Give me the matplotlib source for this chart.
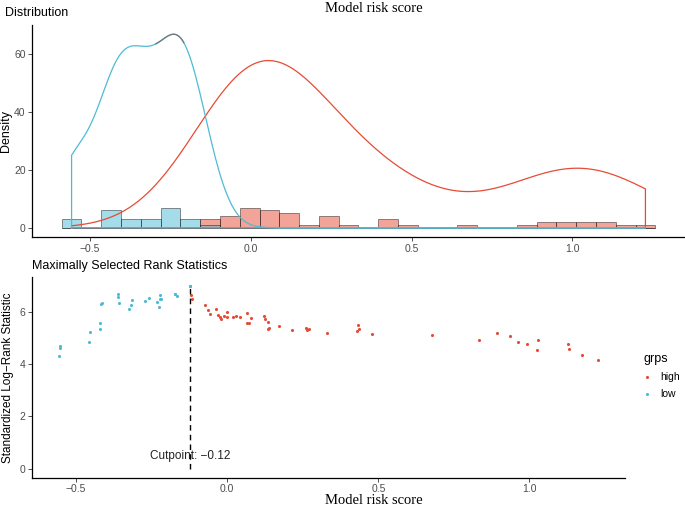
import numpy as np
import matplotlib
matplotlib.use("Agg")
from matplotlib import pyplot as plt

# risk scores of the two groups (low group has one tied value)
low_score = [-0.557, -0.554, -0.552, -0.456, -0.455, -0.421, -0.420, -0.417, -0.414,
             -0.363, -0.360, -0.359, -0.326, -0.318, -0.315, -0.271, -0.258, -0.234,
             -0.226, -0.222, -0.221, -0.220, -0.173, -0.173, -0.166, -0.124]
low_stat = [4.30, 4.62, 4.67, 4.85, 5.21, 5.34, 5.57, 6.30, 6.32,
            6.67, 6.57, 6.31, 6.11, 6.27, 6.43, 6.39, 6.50, 6.37,
            6.18, 6.48, 6.63, 6.49, 6.68, 6.68, 6.60, 6.97]

high_score = [-0.122, -0.120, -0.116, -0.075, -0.065, -0.058, -0.036, -0.029, -0.024, -0.022,
              -0.010, -0.002, -0.001, 0.020, 0.030, 0.043, 0.065, 0.066, 0.073, 0.077,
              0.121, 0.126, 0.134, 0.135, 0.139, 0.171, 0.214, 0.259, 0.263, 0.272,
              0.329, 0.429, 0.434, 0.436, 0.479, 0.676, 0.834, 0.891, 0.935, 0.963,
              0.992, 1.024, 1.027, 1.129, 1.130, 1.175, 1.227]
high_stat = [6.97, 6.63, 6.49, 6.26, 6.05, 5.89, 6.08, 5.87, 5.80, 5.73,
             5.85, 5.99, 5.79, 5.80, 5.82, 5.78, 5.93, 5.57, 5.56, 5.76,
             5.84, 5.70, 5.60, 5.32, 5.36, 5.45, 5.29, 5.37, 5.31, 5.33,
             5.19, 5.26, 5.48, 5.32, 5.13, 5.09, 4.90, 5.17, 5.06, 4.84,
             4.75, 4.54, 4.92, 4.77, 4.58, 4.34, 4.17]

cutpoint = -0.124
groups = ["high", "low"]
colors = {"high": "#E64B35", "low": "#4DBBD5"}

sans = "Liberation Sans"
serif = "Liberation Serif"
plt.rcParams["font.family"] = sans


def nrd0(x):
    x = np.asarray(x)
    iqr = np.percentile(x, 75) - np.percentile(x, 25)
    return 0.9 * min(np.std(x, ddof=1), iqr / 1.34) * len(x) ** -0.2


def kde_count(x, grid):
    x = np.asarray(x)
    h = nrd0(x)
    z = (grid[:, None] - x[None, :]) / h
    dens = np.exp(-0.5 * z ** 2).sum(axis=1) / (len(x) * h * np.sqrt(2 * np.pi))
    return dens * len(x)


def style_axes(ax):
    for s in ["top", "right"]:
        ax.spines[s].set_visible(False)
    for s in ["left", "bottom"]:
        ax.spines[s].set_linewidth(0.9)
    ax.tick_params(length=3, width=0.6, color="#333333", labelsize=7.5,
                   labelcolor="#4D4D4D", pad=1.5)


fig = plt.figure(figsize=(6.85, 5.07), dpi=100)
ax1 = fig.add_axes([0.0467, 0.5316, 0.9533, 0.42])
ax2 = fig.add_axes([0.0467, 0.0572, 0.8657, 0.3964])

# distribution panel
scores = {"high": high_score, "low": low_score}
all_scores = np.array(low_score + high_score)
lo, hi = all_scores.min(), all_scores.max()
bw = (hi - lo) / 29
edges = np.linspace(lo - bw / 2, hi + bw / 2, 31)
grid = np.linspace(lo, hi, 512)

for g in groups:
    ax1.hist(scores[g], bins=edges, color=colors[g], alpha=0.5,
             edgecolor=(0, 0, 0, 0.6), linewidth=0.6)

ymax = 0
for g in groups:
    d = kde_count(scores[g], grid)
    ymax = max(ymax, d.max())
    px = np.concatenate([[grid[0]], grid, [grid[-1], grid[0]]])
    py = np.concatenate([[0], d, [0, 0]])
    ax1.plot(px, py, color=colors[g], linewidth=0.9)
    if g == "low":
        top = d > 0.95 * d.max()
        ax1.plot(grid[top], d[top], color="#777777", linewidth=0.9)

pad = (edges[-1] - edges[0]) * 0.05
ax1.set_xlim(edges[0] - pad, edges[-1] + pad)
ax1.set_ylim(-0.05 * ymax, 1.05 * ymax)
ax1.set_xticks([-0.5, 0.0, 0.5, 1.0])
ax1.set_xticklabels(["\u22120.5", "0.0", "0.5", "1.0"])
ax1.set_yticks([0, 20, 40, 60])
style_axes(ax1)

# maximally selected rank statistics panel
ax2.scatter(high_score, high_stat, s=5, color=colors["high"], linewidths=0, label="high")
ax2.scatter(low_score, low_stat, s=5, color=colors["low"], linewidths=0, label="low")
smax = max(max(low_stat), max(high_stat))
ax2.plot([cutpoint, cutpoint], [0, smax], color="black", linestyle=(0, (4, 3)), linewidth=1)
ax2.text(cutpoint, 0.48, "Cutpoint: " + f"{cutpoint:.2f}".replace("-", "\u2212"),
         ha="center", va="center", fontsize=8.5, color="#222222")
pad = (hi - lo) * 0.05
ax2.set_xlim(lo - pad, hi + pad)
ax2.set_ylim(-0.05 * smax, 1.05 * smax)
ax2.set_xticks([-0.5, 0.0, 0.5, 1.0])
ax2.set_xticklabels(["\u22120.5", "0.0", "0.5", "1.0"])
ax2.set_yticks([0, 2, 4, 6])
style_axes(ax2)

leg = ax2.legend(title="grps", loc="upper left", bbox_to_anchor=(0.925, 0.322),
                 bbox_transform=fig.transFigure, frameon=False, fontsize=7.5,
                 title_fontsize=9, markerscale=1.0, handlelength=0.8,
                 handletextpad=0.9, labelspacing=0.65, alignment="left")

# titles and labels
fig.text(0.546, 0.984, "Model risk score", family=serif, fontsize=10.5,
         ha="center", va="center")
fig.text(0.546, 0.013, "Model risk score", family=serif, fontsize=10.5,
         ha="center", va="center")
fig.text(0.0073, 0.974, "Distribution", fontsize=9, ha="left", va="center")
fig.text(0.0467, 0.4753, "Maximally Selected Rank Statistics", fontsize=9,
         ha="left", va="center")
fig.text(0.0088, 0.7416, "Density", fontsize=9, rotation=90, ha="center", va="center")
fig.text(0.0117, 0.2554, "Standardized Log\u2212Rank Statistic", fontsize=8.5,
         rotation=90, ha="center", va="center")

fig.savefig("out.png", dpi=100)
